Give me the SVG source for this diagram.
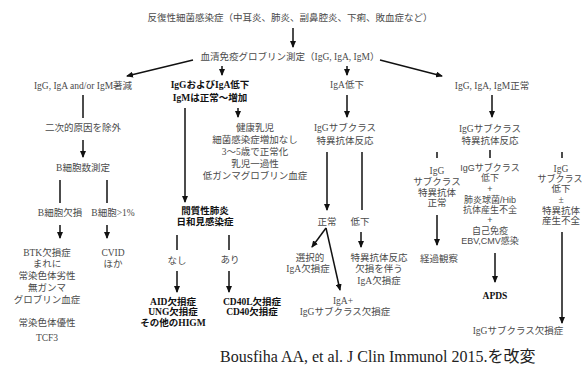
<svg xmlns="http://www.w3.org/2000/svg" width="585" height="367" viewBox="0 0 585 367">
<style>
text{font-family:"Liberation Serif","Noto Sans CJK JP",serif;font-size:9.5px;fill:#4a4a4a;text-anchor:middle}
.b{font-weight:bold;fill:#111}
.s{font-family:"Liberation Sans","Noto Sans CJK JP",sans-serif;font-size:9px}
.cap{font-size:16px;fill:#222;text-anchor:start}
.c line{stroke:#111;stroke-width:1.5}
.c .a{marker-end:url(#ah)}
</style>
<defs>
<marker id="ah" markerUnits="userSpaceOnUse" markerWidth="7" markerHeight="6" refX="6" refY="3" orient="auto">
<path d="M0,0 L7,3 L0,6 z" fill="#111"/>
</marker>
</defs>
<rect width="585" height="367" fill="#fff"/>
<g class="c" id="connectors">
<line class="a" x1="293" y1="28" x2="293" y2="47"/>
<line class="a" x1="193" y1="60" x2="127" y2="76"/>
<line class="a" x1="380" y1="60" x2="442" y2="76"/>
<line class="a" x1="222" y1="66" x2="222" y2="75"/>
<line class="a" x1="347" y1="66" x2="347" y2="75"/>
<line x1="83" y1="95" x2="83" y2="118"/>
<line class="a" x1="185" y1="108" x2="185" y2="202"/>
<line class="a" x1="238" y1="108" x2="238" y2="117"/>
<line class="a" x1="347" y1="95" x2="347" y2="117"/>
<line class="a" x1="492" y1="95" x2="492" y2="117"/>
<line class="a" x1="83" y1="140" x2="83" y2="157"/>
<line x1="60" y1="180" x2="60" y2="203"/>
<line x1="107" y1="180" x2="107" y2="203"/>
<line class="a" x1="60" y1="225" x2="60" y2="238"/>
<line class="a" x1="107" y1="225" x2="107" y2="238"/>
<line x1="177" y1="235" x2="177" y2="250"/>
<line x1="229" y1="235" x2="229" y2="250"/>
<line class="a" x1="177" y1="271" x2="177" y2="292"/>
<line class="a" x1="229" y1="271" x2="229" y2="292"/>
<line class="a" x1="327" y1="152" x2="327" y2="210"/>
<line x1="362" y1="152" x2="362" y2="210"/>
<line class="a" x1="361" y1="232" x2="361" y2="247"/>
<line class="a" x1="326" y1="228" x2="312" y2="247"/>
<line class="a" x1="326" y1="228" x2="340" y2="290"/>
<line x1="437" y1="152" x2="437" y2="158"/>
<line class="a" x1="437" y1="215" x2="437" y2="245"/>
<line x1="490" y1="150" x2="490" y2="158"/>
<line class="a" x1="495" y1="253" x2="495" y2="282"/>
<line x1="562" y1="152" x2="562" y2="158"/>
<line class="a" x1="562" y1="232" x2="562" y2="323"/>
</g>
<g id="n-root"><text x="290" y="20.5">反復性細菌感染症（中耳炎、肺炎、副鼻腔炎、下痢、敗血症など）</text></g>
<g id="n-serum"><text x="290" y="59.5">血清免疫グロブリン測定（IgG, IgA, IgM）</text></g>
<g id="n-all-low"><text x="83" y="88.5">IgG, IgA and/or IgM著減</text></g>
<g id="n-higm"><text class="b" x="210" y="87.5">IgGおよびIgA低下</text><text class="b" x="210" y="100.5">IgMは正常〜増加</text></g>
<g id="n-iga-low"><text x="347" y="87.5">IgA低下</text></g>
<g id="n-normal"><text x="492" y="88.5">IgG, IgA, IgM正常</text></g>
<g id="n-secondary"><text x="83" y="130.5">二次的原因を除外</text></g>
<g id="n-bcell"><text x="83" y="170.5">B細胞数測定</text></g>
<g id="n-b-absent"><text x="60" y="215.5">B細胞欠損</text></g>
<g id="n-b-present"><text x="113" y="215.5">B細胞&gt;1%</text></g>
<g id="n-btk">
<text x="47" y="255.5">BTK欠損症</text><text x="47" y="266.5">まれに</text><text x="47" y="278.5">常染色体劣性</text><text x="47" y="290.5">無ガンマ</text><text x="47" y="302.5">グロブリン血症</text>
<text x="47" y="325.5">常染色体優性</text><text x="47" y="340.5">TCF3</text>
</g>
<g id="n-cvid"><text x="113" y="255.5">CVID</text><text x="113" y="266.5">ほか</text></g>
<g id="n-transient">
<text x="255" y="130.5">健康乳児</text><text x="255" y="142.5">細菌感染症増加なし</text><text x="255" y="154.5">3〜5歳で正常化</text><text x="255" y="166.5">乳児一過性</text><text x="255" y="178.5">低ガンマグロブリン血症</text>
</g>
<g id="n-pneumonia"><text class="b" x="205" y="213.5">間質性肺炎</text><text class="b" x="205" y="224.5">日和見感染症</text></g>
<g id="n-none"><text x="177" y="263.5">なし</text></g>
<g id="n-present"><text x="230" y="262.5">あり</text></g>
<g id="n-aid"><text class="b" x="173" y="305">AID欠損症</text><text class="b" x="173" y="315">UNG欠損症</text><text class="b" x="173" y="325.5">その他のHIGM</text></g>
<g id="n-cd40"><text class="b" x="252" y="305">CD40L欠損症</text><text class="b" x="252" y="315">CD40欠損症</text></g>
<g id="n-subclass1"><text x="345" y="130.5">IgGサブクラス</text><text x="345" y="143.5">特異抗体反応</text></g>
<g id="n-ok"><text x="327" y="224.5">正常</text></g>
<g id="n-low"><text x="360" y="224.5">低下</text></g>
<g id="n-siga"><text x="310" y="260.5">選択的</text><text x="308" y="271.5">IgA欠損症</text></g>
<g id="n-sad"><text x="379" y="260.5">特異抗体反応</text><text x="379" y="271.5">欠損を伴う</text><text x="379" y="283.5">IgA欠損症</text></g>
<g id="n-iga-subclass"><text x="343" y="303.5">IgA+</text><text x="345" y="314.5">IgGサブクラス欠損症</text></g>
<g id="n-observe"><text x="439" y="261.5">経過観察</text></g>
<g id="n-col-normal"><text x="437" y="173.5">IgG</text><text x="437" y="185">サブクラス</text><text x="437" y="195.5">特異抗体</text><text x="437" y="205.5">正常</text></g>
<g id="n-subclass2"><text x="490" y="131.5">IgGサブクラス</text><text x="490" y="144">特異抗体反応</text></g>
<g id="n-apds-crit">
<text class="s" x="490" y="170.5">IgGサブクラス</text><text class="s" x="490" y="180.5">低下</text><text class="s" x="490" y="191.5">+</text><text class="s" x="490" y="202.5">肺炎球菌/Hib</text><text class="s" x="490" y="212.5">抗体産生不全</text><text class="s" x="490" y="222.5">+</text><text class="s" x="490" y="233.5">自己免疫</text><text class="s" x="490" y="244">EBV,CMV感染</text>
</g>
<g id="n-col-low"><text x="561" y="171.5">IgG</text><text x="560" y="181.5" style="font-size:9px">サブクラス</text><text x="561" y="191.5">低下</text><text x="561" y="202.5">±</text><text x="561" y="213.5">特異抗体</text><text x="561" y="223.5">産生不全</text></g>
<g id="n-apds"><text class="b" x="495" y="299">APDS</text></g>
<g id="n-igg-subclass"><text x="518" y="333.5">IgGサブクラス欠損症</text></g>
<g id="caption"><text class="cap" x="220" y="362">Bousfiha AA, et al. J Clin Immunol 2015.を改変</text></g>
</svg>
